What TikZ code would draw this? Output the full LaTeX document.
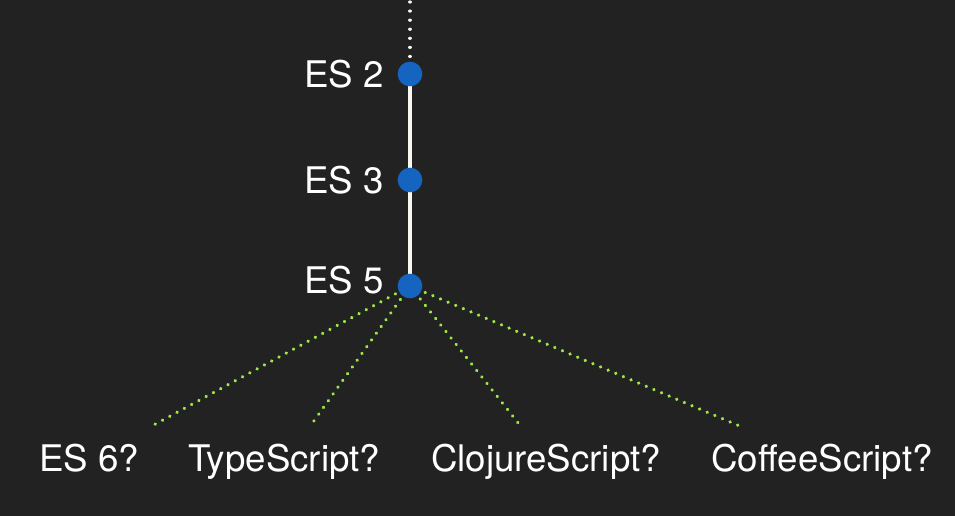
\documentclass[tikz,border=0pt]{standalone}
\usepackage{fontspec}
\setmainfont{TeX Gyre Heros}
\usepackage{xcolor}
\usetikzlibrary{positioning,calc}
\definecolor{bgdark}{HTML}{222222}
\definecolor{esblue}{HTML}{1565C0}
\definecolor{chalk}{HTML}{F8F6EE}
\definecolor{lime}{HTML}{9EEA48}
\tikzset{
  version/.style={circle, fill=esblue, minimum size=18.5pt, inner sep=0pt},
  lbl/.style={text=white, font=\fontsize{27.5}{32}\selectfont, inner sep=0pt},
  trunk/.style={draw=chalk, line width=3pt},
  past/.style={draw=chalk, line width=2.4pt, line cap=round, dash pattern=on 0.01pt off 6.8pt},
  future/.style={draw=lime, line width=2.7pt, line cap=round, dash pattern=on 0.01pt off 6.2pt},
}
\begin{document}
\begin{tikzpicture}[x=0.75pt, y=-0.75pt]
\fill[bgdark] (0,0) rectangle (955,516);
\useasboundingbox (0,0) rectangle (955,516);

\coordinate (top) at (410,2);
\coordinate (toes6)    at (150,427);
\coordinate (tots)     at (311,425);
\coordinate (tocljs)   at (519,424);
\coordinate (tocoffee) at (742,427);
\coordinate (v2) at (410,74);
\coordinate (v3) at (410,180);
\coordinate (v5) at (410,286);

% lines first, dots over them
\draw[past] (top) -- (v2);
\draw[trunk] (v2) -- (v3); \draw[trunk] (v3) -- (v5);
\foreach \t in {toes6,tots,tocljs,tocoffee} \draw[future] (v5) -- (\t);

\node[version] (es2) at (v2) {};
\node[version] (es3) at (v3) {};
\node[version] (es5) at (v5) {};

\node[lbl, anchor=base east] at (384,88)  {ES 2};
\node[lbl, anchor=base east] at (384,194) {ES 3};
\node[lbl, anchor=base east] at (384,293) {ES 5};

\node[lbl, anchor=base] (es6)    at (89,471)  {ES 6?};
\node[lbl, anchor=base] (ts)     at (284,471) {TypeScript?};
\node[lbl, anchor=base] (cljs)   at (546,471) {ClojureScript?};
\node[lbl, anchor=base] (coffee) at (822,471) {CoffeeScript?};
\end{tikzpicture}
\end{document}
